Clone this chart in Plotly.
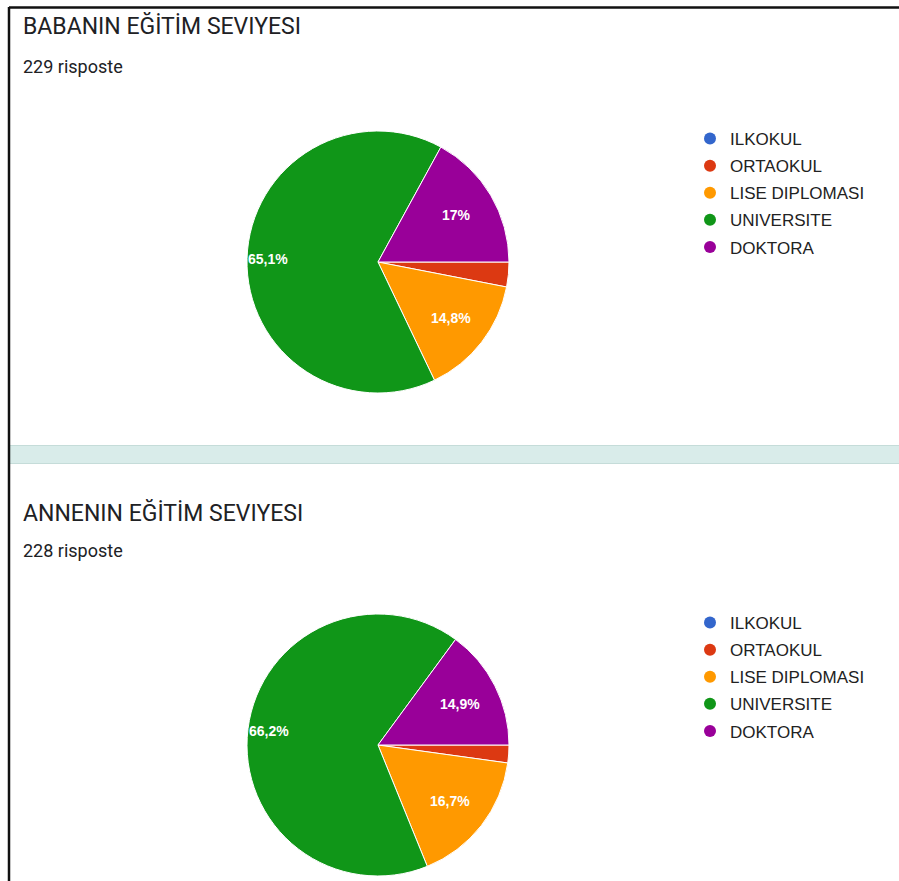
import math
import plotly.graph_objects as go

W, H = 899, 881

categories = ["ILKOKUL", "ORTAOKUL", "LISE DIPLOMASI", "UNIVERSITE", "DOKTORA"]
colors = ["#3366cc", "#dc3912", "#ff9900", "#109618", "#990099"]

# response counts per education level
father_counts = [0, 7, 34, 149, 39]
mother_counts = [0, 5, 38, 151, 34]

father_title = "BABANIN EĞİTİM SEVIYESI"
mother_title = "ANNENIN EĞİTİM SEVIYESI"
father_total = sum(father_counts)
mother_total = sum(mother_counts)

START_ANGLE = 90      # first slice begins at 3 o'clock, drawn clockwise
PIE_R = 131


def fmt_pct(p):
    s = f"{p:.1f}"
    if s.endswith(".0"):
        s = s[:-2]
    return s.replace(".", ",") + "%"


def px_x(x):
    return x / W


def px_y(y):
    return 1 - y / H


def pie_domain(cx, cy, r):
    return dict(x=[px_x(cx - r), px_x(cx + r)], y=[px_y(cy + r), px_y(cy - r)])


def slice_labels(counts, cx, cy, r):
    """Percentage labels placed along each slice's bisector."""
    total = sum(counts)
    out = []
    acc = 0
    for c in counts:
        share = c / total
        mid = math.radians(START_ANGLE + (acc + share / 2) * 360)
        acc += share
        if share < 0.05:
            continue
        f = 0.84 if share > 0.5 else 0.70
        x = cx + f * r * math.sin(mid)
        y = cy - f * r * math.cos(mid)
        out.append(dict(
            text=fmt_pct(share * 100), x=px_x(x), y=px_y(y),
            xref="paper", yref="paper", xanchor="center", yanchor="middle",
            showarrow=False,
            font=dict(family="Arial", size=14, color="white", weight="bold"),
        ))
    return out


fig = go.Figure()

charts = [(father_counts, 378, 262), (mother_counts, 378, 745)]
label_annotations = []
for counts, cx, cy in charts:
    fig.add_trace(go.Pie(
        labels=categories,
        values=counts,
        textinfo="none",
        marker=dict(colors=colors, line=dict(color="white", width=1)),
        sort=False,
        direction="clockwise",
        rotation=START_ANGLE,
        domain=pie_domain(cx, cy, PIE_R),
        showlegend=False,
        hoverinfo="label+percent",
    ))
    label_annotations += slice_labels(counts, cx, cy, PIE_R)

# circle legend entries, one set for each chart
for legend_name in ["legend", "legend2"]:
    for cat, col in zip(categories, colors):
        fig.add_trace(go.Scatter(
            x=[None], y=[None], mode="markers", name=cat,
            marker=dict(symbol="circle", size=13, color=col),
            legend=legend_name, legendgroup=legend_name + cat,
            showlegend=True,
        ))

legend_style = dict(
    font=dict(family="Arial", size=17, color="#222222"),
    bgcolor="rgba(0,0,0,0)",
    xanchor="left", yanchor="top",
    itemsizing="constant",
    tracegroupgap=2,
)

fig.update_layout(
    width=W, height=H,
    margin=dict(l=0, r=0, t=0, b=0),
    paper_bgcolor="white",
    plot_bgcolor="white",
    xaxis=dict(visible=False),
    yaxis=dict(visible=False),
    legend=dict(x=px_x(690), y=px_y(121), **legend_style),
    legend2=dict(x=px_x(690), y=px_y(605), **legend_style),
)

title_font = dict(family="Roboto", size=23, color="#202124")
sub_font = dict(family="Roboto", size=18, color="#202124")

annotations = [
    dict(text=father_title, x=px_x(21), y=px_y(26), font=title_font),
    dict(text=f"{father_total} risposte", x=px_x(21), y=px_y(67), font=sub_font),
    dict(text=mother_title, x=px_x(21), y=px_y(513), font=title_font),
    dict(text=f"{mother_total} risposte", x=px_x(21), y=px_y(550), font=sub_font),
]
for a in annotations:
    a.update(xref="paper", yref="paper", xanchor="left", yanchor="middle", showarrow=False)
fig.update_layout(annotations=annotations + label_annotations)

shapes = [
    # separator band between the two cards
    dict(type="rect", x0=px_x(10), x1=1, y0=px_y(464), y1=px_y(445),
         fillcolor="#d9ecea", line=dict(width=0)),
    dict(type="line", x0=px_x(10), x1=1, y0=px_y(445.5), y1=px_y(445.5),
         line=dict(color="#c5dcd9", width=1)),
    dict(type="line", x0=px_x(10), x1=1, y0=px_y(463.5), y1=px_y(463.5),
         line=dict(color="#c5dcd9", width=1)),
    # frame edges
    dict(type="line", x0=px_x(9), x1=px_x(9), y0=0, y1=px_y(7),
         line=dict(color="#111111", width=2.5)),
    dict(type="line", x0=px_x(9), x1=1, y0=px_y(7.5), y1=px_y(7.5),
         line=dict(color="#111111", width=2.5)),
]
fig.update_layout(shapes=[dict(s, xref="paper", yref="paper", layer="below") for s in shapes])

fig.write_html("out.html")
